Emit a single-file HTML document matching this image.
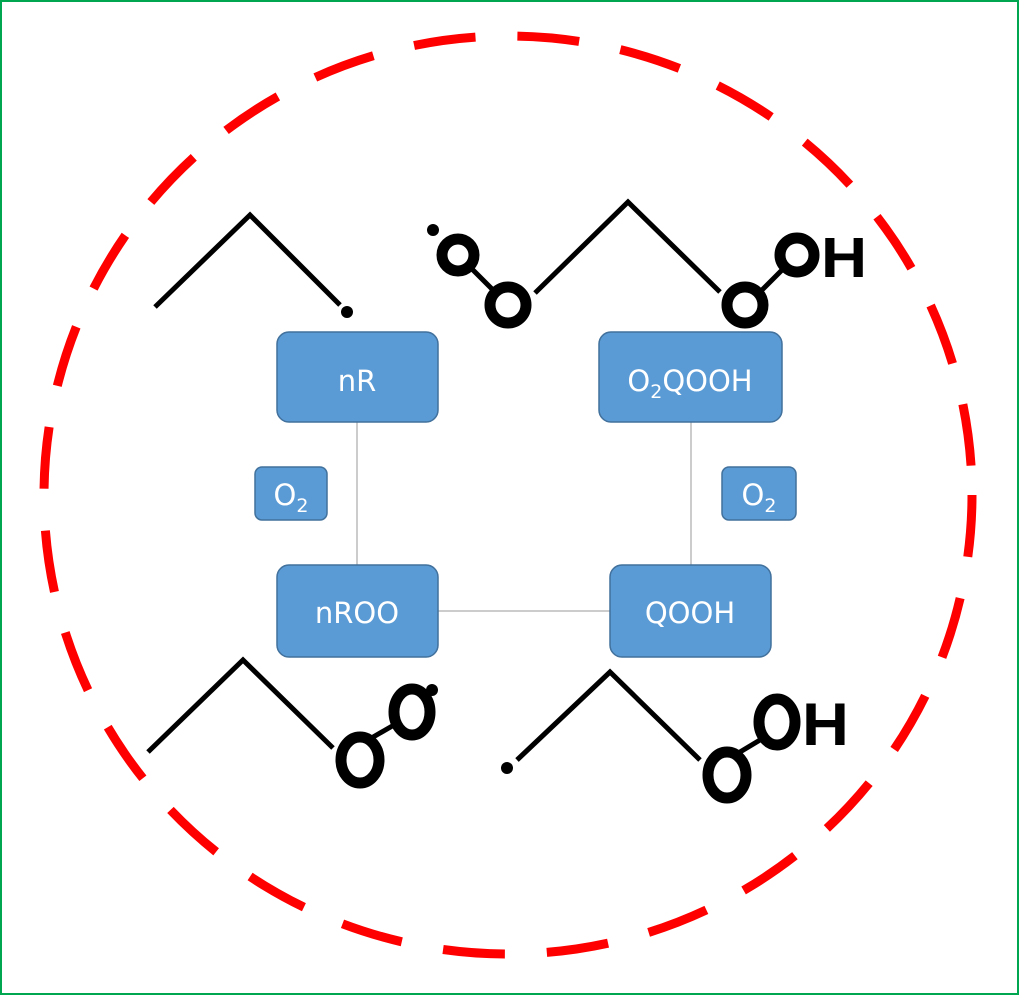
<!DOCTYPE html>
<html><head><style>body{margin:0;background:#fff}svg{display:block}</style></head>
<body>
<svg width="1019" height="995" viewBox="0 0 1019 995" xmlns="http://www.w3.org/2000/svg" font-family="Liberation Sans, sans-serif">
<rect x="1" y="1" width="1017" height="993" fill="#fff" stroke="#00a650" stroke-width="2"/>
<ellipse cx="508" cy="495" rx="464" ry="459" fill="none" stroke="#ff0000" stroke-width="9" stroke-dasharray="62 42"/>
<g stroke="#999" stroke-width="1">
<line x1="357" y1="422" x2="357" y2="565"/><line x1="691" y1="422" x2="691" y2="565"/><line x1="438" y1="611" x2="610" y2="611"/>
</g>
<g fill="#5b9bd5" stroke="#41719c" stroke-width="1.5">
<rect x="277" y="332" width="161" height="90" rx="12"/>
<rect x="599" y="332" width="183" height="90" rx="12"/>
<rect x="277" y="565" width="161" height="92" rx="12"/>
<rect x="610" y="565" width="161" height="92" rx="12"/>
<rect x="255" y="467" width="72" height="53" rx="7"/>
<rect x="722" y="467" width="74" height="53" rx="7"/>
</g>
<g fill="#fff" font-size="29" text-anchor="middle" font-family="DejaVu Sans, sans-serif">
<text x="357" y="391">nR</text>
<text x="690" y="391">O<tspan font-size="19" dy="7">2</tspan><tspan dy="-7">QOOH</tspan></text>
<text x="357" y="623">nROO</text>
<text x="690" y="623">QOOH</text>
<text x="291" y="505">O<tspan font-size="19" dy="7">2</tspan></text>
<text x="759" y="505">O<tspan font-size="19" dy="7">2</tspan></text>
</g>
<g stroke="#000" stroke-width="5" fill="none">
<polyline points="155,307 250,215 340,305"/>
<polyline points="535,293 628,202 720,292"/>
<line x1="470" y1="267" x2="492" y2="289"/><line x1="762" y1="290" x2="782" y2="270"/>
<polyline points="148,752 243,660 333,748"/>
<line x1="368" y1="740" x2="394" y2="725"/>
<polyline points="517,760 610,672 700,760"/>
<line x1="735" y1="755" x2="760" y2="740"/>
</g>
<g stroke="#000" stroke-width="11" fill="none">
<circle cx="458" cy="255" r="16"/><circle cx="508" cy="305" r="18"/>
<circle cx="745" cy="305" r="18"/><circle cx="797" cy="255" r="17"/>
<ellipse cx="360" cy="760" rx="19" ry="23"/><ellipse cx="412" cy="712" rx="18" ry="23"/>
<ellipse cx="727" cy="775" rx="19" ry="23"/><ellipse cx="777" cy="722" rx="18" ry="23"/>
</g>
<g fill="#000">
<circle cx="347" cy="312" r="6"/><circle cx="433" cy="230" r="6"/>
<circle cx="432" cy="690" r="6"/><circle cx="507" cy="768" r="6"/>
</g>
<g font-size="57" font-weight="bold" fill="#000">
<text x="0" y="0" transform="translate(821,277) scale(1.12,1)">H</text>
<text x="0" y="0" transform="translate(802,745) scale(1.14,1.05)">H</text>
</g>
</svg>
</body></html>
